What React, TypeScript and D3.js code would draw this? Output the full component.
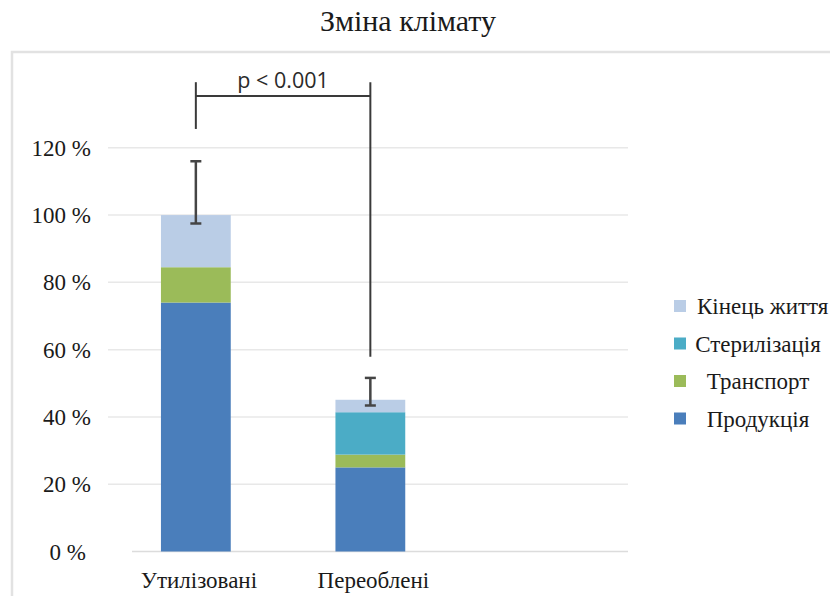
import React, { useEffect, useRef } from 'react';
import * as d3 from 'd3';

const categories = ['Утилізовані', 'Переоблені'];
const seriesNames = ['Продукція', 'Транспорт', 'Стерилізація', 'Кінець життя'];
const production = [74, 25];
const transport = [10.5, 3.8];
const sterilization = [0, 12.6];
const endOfLife = [15.5, 3.7];
const errLow = [97.5, 43.4];
const errHigh = [116, 51.6];
const yTicks = [0, 20, 40, 60, 80, 100, 120];
const colors = ['#4a7ebb', '#9bbb59', '#4bacc6', '#bacde6'];

// significance bracket, in chart units (%)
const bracketTop = 139.5;
const bracketBar = 135.4;
const bracketLegEnd = [125.6, 57.9];
const pLabel = 'p < 0.001';

const App = () => {
  const ref = useRef<SVGSVGElement>(null);

  useEffect(() => {
    const svg = d3.select(ref.current);
    svg.selectAll('*').remove();

    const W = 830, H = 596;
    const serif = 'Liberation Serif';

    svg.append('rect').attr('width', W).attr('height', H).attr('fill', '#fff');

    // frame of the chart area
    svg.append('path')
      .attr('d', `M12,${H} L12,52 L${W},52`)
      .attr('fill', 'none')
      .attr('stroke', '#e2e2e2')
      .attr('stroke-width', 2.5);

    // title
    svg.append('text')
      .attr('x', 408).attr('y', 31)
      .attr('text-anchor', 'middle')
      .attr('font-family', serif)
      .attr('font-size', 30)
      .attr('fill', '#1a1a1a')
      .text('Зміна клімату');

    const y = d3.scaleLinear().domain([0, 120]).range([551.5, 147.8]);
    const x = d3.scaleBand<string>()
      .domain(categories)
      .range([108.6, 457.6])
      .paddingInner(0.6)
      .paddingOuter(0.3);

    // gridlines
    svg.append('g')
      .selectAll('line')
      .data(yTicks)
      .enter().append('line')
      .attr('x1', d => (d === 0 ? 132 : 108))
      .attr('x2', 628)
      .attr('y1', d => y(d))
      .attr('y2', d => y(d))
      .attr('stroke', d => (d === 0 ? '#dcdcdc' : '#e8e8e8'))
      .attr('stroke-width', 1.5);

    // y labels
    svg.append('g')
      .selectAll('text')
      .data(yTicks)
      .enter().append('text')
      .attr('x', d => (d === 0 ? 86 : 91))
      .attr('y', d => y(d))
      .attr('dy', '0.35em')
      .attr('text-anchor', 'end')
      .attr('font-family', serif)
      .attr('font-size', 23)
      .attr('fill', '#1a1a1a')
      .text(d => `${d} %`);

    // stacked bars
    const table = categories.map((c, i) => ({
      cat: c,
      'Продукція': production[i],
      'Транспорт': transport[i],
      'Стерилізація': sterilization[i],
      'Кінець життя': endOfLife[i],
    }));
    const stacked = d3.stack<any>().keys(seriesNames)(table);

    svg.append('g')
      .selectAll('g')
      .data(stacked)
      .enter().append('g')
      .attr('fill', (_d, i) => colors[i])
      .selectAll('rect')
      .data(d => d)
      .enter().append('rect')
      .attr('x', d => x(d.data.cat)!)
      .attr('width', x.bandwidth())
      .attr('y', d => y(d[1]))
      .attr('height', d => y(d[0]) - y(d[1]));

    // x labels
    svg.append('g')
      .selectAll('text')
      .data(categories)
      .enter().append('text')
      .attr('x', d => x(d)! + x.bandwidth() / 2 + 3)
      .attr('y', 588)
      .attr('text-anchor', 'middle')
      .attr('font-family', serif)
      .attr('font-size', 23)
      .attr('fill', '#1a1a1a')
      .text(d => d);

    // error bars
    const eb = svg.append('g').attr('stroke', '#454545').attr('stroke-width', 2.5);
    categories.forEach((c, i) => {
      const cx = x(c)! + x.bandwidth() / 2;
      eb.append('line').attr('x1', cx).attr('x2', cx).attr('y1', y(errLow[i])).attr('y2', y(errHigh[i]));
      eb.append('line').attr('x1', cx - 5.5).attr('x2', cx + 5.5).attr('y1', y(errLow[i])).attr('y2', y(errLow[i]));
      eb.append('line').attr('x1', cx - 5.5).attr('x2', cx + 5.5).attr('y1', y(errHigh[i])).attr('y2', y(errHigh[i]));
    });

    // significance bracket
    const br = svg.append('g').attr('stroke', '#3a3a3a').attr('stroke-width', 2).attr('fill', 'none');
    const bx = categories.map(c => x(c)! + x.bandwidth() / 2);
    bx.forEach((cx, i) => {
      br.append('line').attr('x1', cx).attr('x2', cx).attr('y1', y(bracketTop)).attr('y2', y(bracketLegEnd[i]));
    });
    br.append('line').attr('x1', bx[0]).attr('x2', bx[1]).attr('y1', y(bracketBar)).attr('y2', y(bracketBar));

    svg.append('text')
      .attr('x', (bx[0] + bx[1]) / 2)
      .attr('y', 88)
      .attr('text-anchor', 'middle')
      .attr('font-family', 'Open Sans')
      .attr('font-size', 21.5)
      .attr('fill', '#2a2a2a')
      .text(pLabel);

    // legend (reversed order, top = last series)
    const legendItems = seriesNames.slice().reverse();
    const lg = svg.append('g');
    legendItems.forEach((name, i) => {
      const ly = 306 + i * 37.5;
      const ci = seriesNames.indexOf(name);
      lg.append('rect')
        .attr('x', 674).attr('y', ly - 6)
        .attr('width', 12).attr('height', 12)
        .attr('fill', colors[ci]);
      lg.append('text')
        .attr('x', i === 0 ? 697 : 758)
        .attr('y', ly)
        .attr('dy', '0.35em')
        .attr('text-anchor', i === 0 ? 'start' : 'middle')
        .attr('font-family', serif)
        .attr('font-size', 23)
        .attr('fill', '#1a1a1a')
        .text(name);
    });
  }, []);

  return (
    <svg ref={ref} width={830} height={596} style={{ position: 'absolute', left: 0, top: 0 }}></svg>
  );
};

export default App;
